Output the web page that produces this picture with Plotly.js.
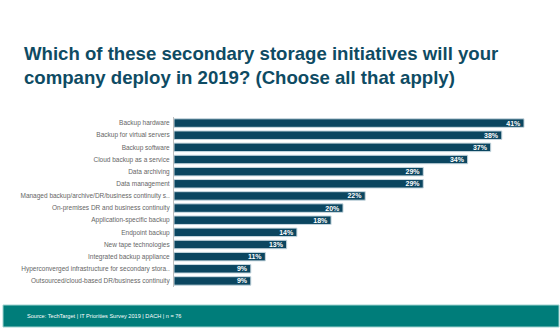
<!DOCTYPE html>
<html>
<head>
<meta charset="utf-8">
<script src="https://cdn.plot.ly/plotly-3.0.1.min.js"></script>
<style>html,body{margin:0;padding:0;background:#fff;}#chart{width:560px;height:336px;}</style>
</head>
<body>
<div id="chart"></div>
<script>
const categories = [
  "Backup hardware",
  "Backup for virtual servers",
  "Backup software",
  "Cloud backup as a service",
  "Data archiving",
  "Data management",
  "Managed backup/archive/DR/business continuity s..",
  "On-premises DR and business continuity",
  "Application-specific backup",
  "Endpoint backup",
  "New tape technologies",
  "Integrated backup appliance",
  "Hyperconverged infrastructure for secondary stora..",
  "Outsourced/cloud-based DR/business continuity"
];
const values = [41.0, 38.4, 37.1, 34.4, 29.2, 29.2, 22.4, 19.8, 18.4, 14.4, 13.2, 10.7, 9.0, 9.0];
const titleText = "Which of these secondary storage initiatives will your<br>company deploy in 2019? (Choose all that apply)";
const sourceText = "Source: TechTarget | IT Priorities Survey 2019 | DACH | n = 76";

const L = 174, R = 558, T = 117, B = 287;
const W = 560, H = 336;
const pw = R - L, ph = B - T;
const px = x => (x - L) / pw;
const py = y => (B - y) / ph;

const trace = {
  type: 'bar',
  orientation: 'h',
  y: categories,
  x: values,
  width: 0.7,
  marker: {color: '#0b4660', line: {color: '#c9d9e1', width: 1}},
  texttemplate: '%{x:.0f}%',
  textposition: 'inside',
  insidetextanchor: 'end',
  textangle: 0,
  constraintext: 'none',
  textfont: {color: '#ffffff', size: 7, family: 'Liberation Sans, Arial, sans-serif', weight: 'bold'},
  hoverinfo: 'none',
  cliponaxis: false
};

const layout = {
  width: W, height: H,
  margin: {l: L, r: W - R, t: T, b: H - B, pad: 0},
  paper_bgcolor: '#ffffff',
  plot_bgcolor: '#ffffff',
  showlegend: false,
  font: {family: 'Liberation Sans, Arial, sans-serif'},
  title: {
    text: titleText,
    x: 24 / W, xanchor: 'left', xref: 'container',
    y: 1 - 60 / H, yanchor: 'top', yref: 'container',
    font: {size: 18.6, color: '#0e4b63', family: 'Liberation Sans, Arial, sans-serif', weight: 'bold'}
  },
  xaxis: {range: [0, pw / 8.537], visible: false, fixedrange: true},
  yaxis: {
    autorange: 'reversed',
    type: 'category',
    showgrid: false,
    zeroline: false,
    showline: true,
    linecolor: '#bfbfbf',
    linewidth: 1,
    ticks: '',
    ticklabelstandoff: 2,
    tickfont: {size: 6.5, color: '#666666', family: 'Liberation Sans, Arial, sans-serif'}
  },
  shapes: [{
    type: 'rect', xref: 'paper', yref: 'paper',
    x0: px(3), x1: px(559), y0: py(305), y1: py(327),
    fillcolor: '#007d7a', line: {color: '#9fd3d0', width: 1}, layer: 'below'
  }],
  annotations: [{
    xref: 'paper', yref: 'paper',
    x: px(25), y: py(316), xanchor: 'left', yanchor: 'middle',
    text: sourceText, showarrow: false,
    font: {size: 5.6, color: '#ffffff', family: 'Liberation Sans, Arial, sans-serif'}
  }]
};

Plotly.newPlot('chart', [trace], layout, {staticPlot: true, displayModeBar: false});
</script>
</body>
</html>
